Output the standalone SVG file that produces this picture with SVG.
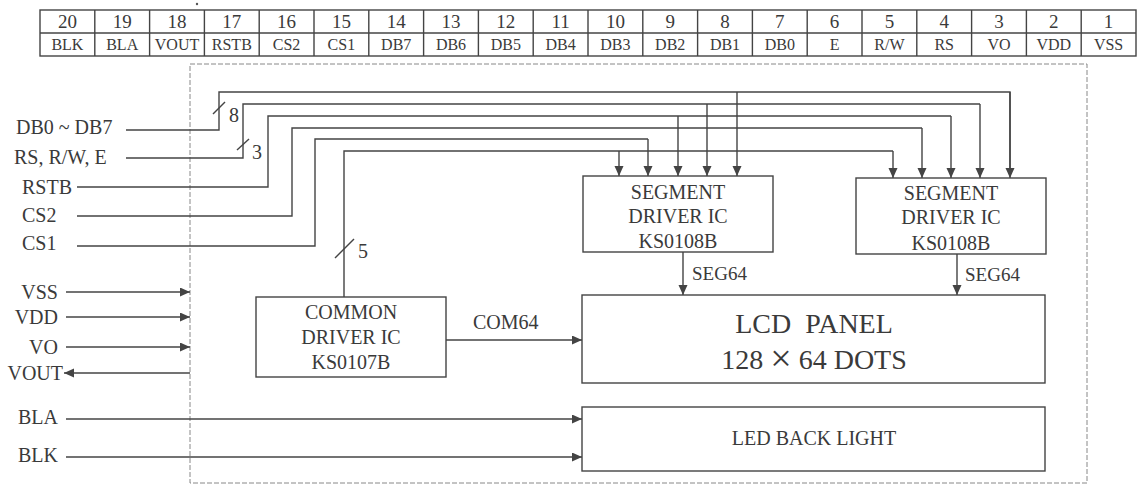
<svg xmlns="http://www.w3.org/2000/svg" width="1138" height="486" viewBox="0 0 1138 486">
<style>
  text { font-family: "Liberation Serif", "Times New Roman", serif; fill: #3a3a3a; }
  .num { font-size: 19px; text-anchor: middle; }
  .pin { font-size: 16px; text-anchor: middle; }
  .lbl { font-size: 20px; }
  .blk { font-size: 20px; text-anchor: middle; }
  .big { font-size: 28px; text-anchor: middle; }
  .ln { stroke: #444; stroke-width: 1.4; fill: none; }
  .box { stroke: #444; stroke-width: 1.4; fill: #fff; }
  .tb { stroke: #444; stroke-width: 1.4; fill: none; }
  .frame { stroke: #888; stroke-width: 1; fill: none; stroke-dasharray: 5 2; }
  .arr { marker-end: url(#ah); }
</style>
<defs>
  <marker id="ah" markerUnits="userSpaceOnUse" markerWidth="11" markerHeight="10" refX="10" refY="4.5" orient="auto">
    <path d="M0,0 L10,4.5 L0,9 Z" fill="#444"/>
  </marker>
</defs>
<rect width="1138" height="486" fill="#fff"/>
<circle cx="197" cy="4" r="1.2" fill="#555"/>

<g id="pin-table">
  <rect class="tb" x="40" y="10" width="1096" height="46"/>
  <line class="tb" x1="40" y1="33" x2="1136" y2="33"/>
  <path class="tb" d="M94.8,10V56M149.6,10V56M204.4,10V56M259.2,10V56M314,10V56M368.8,10V56M423.6,10V56M478.4,10V56M533.2,10V56M588,10V56M642.8,10V56M697.6,10V56M752.4,10V56M807.2,10V56M862,10V56M916.8,10V56M971.6,10V56M1026.4,10V56M1081.2,10V56"/>
  <text class="num" x="67.4" y="28">20</text>
  <text class="num" x="122.2" y="28">19</text>
  <text class="num" x="177" y="28">18</text>
  <text class="num" x="231.8" y="28">17</text>
  <text class="num" x="286.6" y="28">16</text>
  <text class="num" x="341.4" y="28">15</text>
  <text class="num" x="396.2" y="28">14</text>
  <text class="num" x="451" y="28">13</text>
  <text class="num" x="505.8" y="28">12</text>
  <text class="num" x="560.6" y="28">11</text>
  <text class="num" x="615.4" y="28">10</text>
  <text class="num" x="670.2" y="28">9</text>
  <text class="num" x="725" y="28">8</text>
  <text class="num" x="779.8" y="28">7</text>
  <text class="num" x="834.6" y="28">6</text>
  <text class="num" x="889.4" y="28">5</text>
  <text class="num" x="944.2" y="28">4</text>
  <text class="num" x="999" y="28">3</text>
  <text class="num" x="1053.8" y="28">2</text>
  <text class="num" x="1108.6" y="28">1</text>
  <text class="pin" x="67.4" y="50">BLK</text>
  <text class="pin" x="122.2" y="50">BLA</text>
  <text class="pin" x="177" y="50">VOUT</text>
  <text class="pin" x="231.8" y="50">RSTB</text>
  <text class="pin" x="286.6" y="50">CS2</text>
  <text class="pin" x="341.4" y="50">CS1</text>
  <text class="pin" x="396.2" y="50">DB7</text>
  <text class="pin" x="451" y="50">DB6</text>
  <text class="pin" x="505.8" y="50">DB5</text>
  <text class="pin" x="560.6" y="50">DB4</text>
  <text class="pin" x="615.4" y="50">DB3</text>
  <text class="pin" x="670.2" y="50">DB2</text>
  <text class="pin" x="725" y="50">DB1</text>
  <text class="pin" x="779.8" y="50">DB0</text>
  <text class="pin" x="834.6" y="50">E</text>
  <text class="pin" x="889.4" y="50">R/W</text>
  <text class="pin" x="944.2" y="50">RS</text>
  <text class="pin" x="999" y="50">VO</text>
  <text class="pin" x="1053.8" y="50">VDD</text>
  <text class="pin" x="1108.6" y="50">VSS</text>
</g>

<rect id="module-frame" class="frame" x="190" y="64" width="897" height="419"/>

<g id="left-labels">
  <text class="lbl" x="16" y="134">DB0 ~ DB7</text>
  <text class="lbl" x="14" y="164">RS, R/W, E</text>
  <text class="lbl" x="22" y="194">RSTB</text>
  <text class="lbl" x="22" y="222">CS2</text>
  <text class="lbl" x="22" y="250">CS1</text>
  <text class="lbl" x="58" y="299" text-anchor="end">VSS</text>
  <text class="lbl" x="58" y="324" text-anchor="end">VDD</text>
  <text class="lbl" x="58" y="354" text-anchor="end">VO</text>
  <text class="lbl" x="63" y="380" text-anchor="end">VOUT</text>
  <text class="lbl" x="58" y="424" text-anchor="end">BLA</text>
  <text class="lbl" x="58" y="462" text-anchor="end">BLK</text>
</g>

<g id="seg-driver-1">
  <rect class="box" x="583" y="176" width="190" height="76"/>
  <text class="blk" x="678" y="199">SEGMENT</text>
  <text class="blk" x="678" y="223">DRIVER IC</text>
  <text class="blk" x="678" y="248">KS0108B</text>
</g>
<g id="seg-driver-2">
  <rect class="box" x="856" y="178" width="190" height="76"/>
  <text class="blk" x="951" y="200">SEGMENT</text>
  <text class="blk" x="951" y="224">DRIVER IC</text>
  <text class="blk" x="951" y="250">KS0108B</text>
</g>
<g id="common-driver">
  <rect class="box" x="256" y="297" width="190" height="80"/>
  <text class="blk" x="351" y="319">COMMON</text>
  <text class="blk" x="351" y="344">DRIVER IC</text>
  <text class="blk" x="351" y="369">KS0107B</text>
</g>
<g id="lcd-panel">
  <rect class="box" x="582" y="295" width="463" height="88"/>
  <text class="big" x="814" y="333" xml:space="preserve">LCD  PANEL</text>
  <text class="big" x="814" y="369">128 <tspan style="font-size:38px" dy="2">×</tspan><tspan dy="-2"> 64 DOTS</tspan></text>
</g>
<g id="led-backlight">
  <rect class="box" x="582" y="407" width="463" height="64"/>
  <text class="blk" x="814" y="445">LED BACK LIGHT</text>
</g>

<g id="connectors">
  <path class="ln" d="M126,130H219V92H1010V168"/>
  <path class="ln arr" d="M1010,92V178"/>
  <path class="ln arr" d="M737,92V176"/>
  <path class="ln" d="M126,158H243V104H980"/>
  <path class="ln arr" d="M980,104V178"/>
  <path class="ln arr" d="M707,104V176"/>
  <path class="ln" d="M77,187H268V116H951"/>
  <path class="ln arr" d="M951,116V178"/>
  <path class="ln arr" d="M678,116V176"/>
  <path class="ln" d="M77,216H292V128H922"/>
  <path class="ln arr" d="M922,128V178"/>
  <path class="ln" d="M77,246H315V139H648"/>
  <path class="ln arr" d="M648,139V176"/>
  <path class="ln" d="M344,297V151H893"/>
  <path class="ln arr" d="M893,151V178"/>
  <path class="ln arr" d="M619,151V176"/>
  <line class="ln" x1="213" y1="114" x2="225" y2="102"/>
  <text class="lbl" x="229" y="122">8</text>
  <line class="ln" x1="237" y1="150" x2="249" y2="139"/>
  <text class="lbl" x="252" y="159">3</text>
  <line class="ln" x1="335" y1="258" x2="354" y2="239"/>
  <text class="lbl" x="358" y="258">5</text>
  <path class="ln arr" d="M66,292H190"/>
  <path class="ln arr" d="M66,317H190"/>
  <path class="ln arr" d="M66,347H190"/>
  <path class="ln arr" d="M190,373H64"/>
  <path class="ln arr" d="M66,419H582"/>
  <path class="ln arr" d="M66,457H582"/>
  <path class="ln arr" d="M683,252V295"/>
  <text class="lbl" x="692" y="280" style="font-size:19px">SEG64</text>
  <path class="ln arr" d="M957,254V295"/>
  <text class="lbl" x="965" y="281" style="font-size:19px">SEG64</text>
  <path class="ln arr" d="M446,340H582"/>
  <text class="lbl" x="473" y="329">COM64</text>
</g>
</svg>
